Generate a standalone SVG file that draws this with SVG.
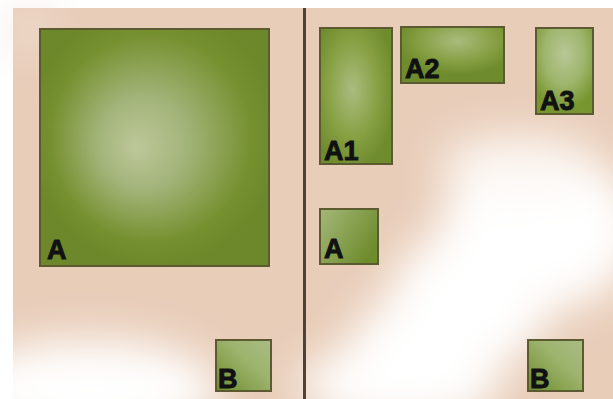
<svg xmlns="http://www.w3.org/2000/svg" width="613" height="399" viewBox="0 0 613 399">
<defs>
<style>
.box{stroke:#5c5a30;stroke-width:2}
.lbl{font-family:"Liberation Sans",Arial,sans-serif;font-weight:bold;font-size:27px;fill:#111;stroke:#111;stroke-width:0.9}
</style>
<filter id="blur" x="-50%" y="-50%" width="200%" height="200%"><feGaussianBlur stdDeviation="22"/></filter>
<radialGradient id="gBig" cx="0.5" cy="0.45" r="0.55" fx="0.42" fy="0.5">
<stop offset="0" stop-color="#bdc899"/><stop offset="0.35" stop-color="#a3b47a"/><stop offset="0.8" stop-color="#75902f"/><stop offset="1" stop-color="#6c882a"/>
</radialGradient>
<radialGradient id="gTall" cx="0.45" cy="0.45" r="0.6">
<stop offset="0" stop-color="#abbc80"/><stop offset="0.6" stop-color="#86a042"/><stop offset="1" stop-color="#6e8b2d"/>
</radialGradient>
<radialGradient id="gWide" cx="0.55" cy="0.25" r="0.6">
<stop offset="0" stop-color="#aabb7e"/><stop offset="0.6" stop-color="#87a044"/><stop offset="1" stop-color="#6e8b2d"/>
</radialGradient>
<radialGradient id="gA3" cx="0.5" cy="0.3" r="0.65">
<stop offset="0" stop-color="#b9c896"/><stop offset="0.55" stop-color="#9db56c"/><stop offset="1" stop-color="#78962f"/>
</radialGradient>
<linearGradient id="gSmallA" x1="0" y1="0" x2="1" y2="0.6">
<stop offset="0" stop-color="#a4b87a"/><stop offset="1" stop-color="#6f8c2d"/>
</linearGradient>
<linearGradient id="gB" x1="0" y1="1" x2="1" y2="0">
<stop offset="0" stop-color="#6f8c2d"/><stop offset="0.6" stop-color="#9db46e"/><stop offset="1" stop-color="#a9bc84"/>
</linearGradient>
</defs>

<rect x="0" y="0" width="613" height="399" fill="#ffffff"/>
<g id="background">
<rect x="13" y="8" width="600" height="391" fill="#e8cdb9"/>
<g filter="url(#blur)">
<ellipse cx="90" cy="390" rx="130" ry="50" fill="#ffffff"/>
<ellipse cx="30" cy="30" rx="20" ry="20" fill="#f0e2d5"/>
<ellipse cx="400" cy="385" rx="100" ry="40" fill="#ffffff"/>
<ellipse cx="470" cy="300" rx="80" ry="70" fill="#ffffff"/>
<ellipse cx="540" cy="230" rx="100" ry="80" fill="#ffffff"/>
<ellipse cx="520" cy="165" rx="80" ry="30" fill="#fcf7f3"/>
<ellipse cx="420" cy="350" rx="70" ry="55" fill="#ffffff"/>
</g>
<rect x="303" y="8" width="3" height="391" fill="#4e4236"/>
</g>

<g id="node-A-left">
<rect class="box" x="40" y="29" width="229" height="237" fill="url(#gBig)"/>
<text class="lbl" x="47" y="259">A</text>
</g>
<g id="node-B-left">
<rect class="box" x="216" y="340" width="55" height="51" fill="url(#gB)"/>
<text class="lbl" x="218" y="388">B</text>
</g>
<g id="node-A1">
<rect class="box" x="320" y="28" width="72" height="136" fill="url(#gTall)"/>
<text class="lbl" x="324" y="160">A1</text>
</g>
<g id="node-A2">
<rect class="box" x="401" y="27" width="103" height="56" fill="url(#gWide)"/>
<text class="lbl" x="405" y="78">A2</text>
</g>
<g id="node-A3">
<rect class="box" x="536" y="28" width="57" height="86" fill="url(#gA3)"/>
<text class="lbl" x="540" y="110">A3</text>
</g>
<g id="node-A-right">
<rect class="box" x="320" y="209" width="58" height="55" fill="url(#gSmallA)"/>
<text class="lbl" x="324" y="258">A</text>
</g>
<g id="node-B-right">
<rect class="box" x="528" y="340" width="55" height="51" fill="url(#gB)"/>
<text class="lbl" x="530" y="388">B</text>
</g>
<g id="connectors"></g>
</svg>
